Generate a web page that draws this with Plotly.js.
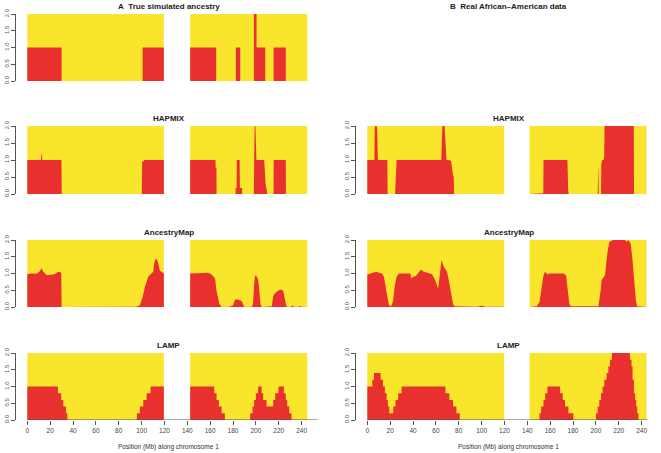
<!DOCTYPE html>
<html>
<head>
<meta charset="utf-8">
<script src="https://cdn.plot.ly/plotly-3.0.1.min.js"></script>
<style>html,body{margin:0;padding:0;background:#fff;}#chart{width:661px;height:453px;}</style>
</head>
<body>
<div id="chart"></div>
<script>
// ---------- DATA ----------
const armsLeft = [[0, 119.5], [142.5, 245]];
const armsRight = [[0, 119.8], [142, 244.3]];
const xTicks = [0, 20, 40, 60, 80, 100, 120, 140, 160, 180, 200, 220, 240];
const yTicks = [0, 0.5, 1, 1.5, 2];
const yTickText = ['0.0', '0.5', '1.0', '1.5', '2.0'];

// A: true simulated ancestry (step)
const trueX1 = [0, 30, 100.9, 119.5];
const trueY1 = [1, 0, 1, 1];
const trueX2 = [142.5, 165.3, 182.5, 186.3, 198.3, 200.6, 208.2, 215.5, 226.2, 245];
const trueY2 = [1, 0, 1, 0, 2, 1, 0, 1, 0, 0];

// HAPMIX simulated
const hapLX1 = [0, 12, 12.3, 12.5, 12.8, 13.1, 29.9, 30.1, 66, 66.3, 66.6, 82, 82.3, 82.6, 100.2, 100.5, 102, 102.2, 119.5];
const hapLY1 = [1, 1, 1.15, 1.22, 1.15, 1, 1, 0, 0, 0.02, 0, 0, 0.02, 0, 0, 0.95, 0.97, 1, 1];
const hapLX2 = [142.5, 164.7, 164.8, 165.5, 165.6, 177.6, 177.8, 178, 182.2, 182.3, 183.2, 183.3, 185.8, 186, 188, 188.1, 198.2, 198.5, 198.9, 199.6, 200.2, 200.5, 207.3, 208.5, 209.8, 210, 215.5, 215.6, 226.2, 226.3, 245];
const hapLY2 = [1, 1, 0.78, 0.78, 0, 0, 0.03, 0, 0, 0.18, 0.18, 1, 1, 0.18, 0.18, 0, 0, 1.5, 2, 2, 1.2, 1, 1, 0.3, 0.05, 0, 0, 1, 1, 0, 0];

// AncestryMap simulated
const ancLX1 = [0, 3, 8, 10.5, 12.5, 14, 17, 20, 24, 27, 29.7, 30, 50, 70, 83, 84.5, 86, 95, 98.5, 100.9, 102.9, 105.8, 108.7, 110.2, 111, 112, 113.7, 115.2, 116, 117.5, 119.5];
const ancLY1 = [0.98, 1.0, 0.99, 1.05, 1.16, 1.05, 0.95, 0.96, 0.98, 1.05, 1.03, 0, 0.01, 0.005, 0.01, 0.03, 0.01, 0.01, 0.05, 0.3, 0.6, 0.9, 1.0, 1.05, 1.3, 1.42, 1.42, 1.2, 1.08, 1.05, 1.0];
const ancLX2 = [142.5, 150, 155, 158, 161, 163, 164.3, 165.5, 166.5, 168, 170, 177, 180, 181.5, 182.5, 185, 187.5, 189, 190, 196.5, 197.5, 198.5, 199.4, 200.5, 202, 203, 204, 205, 214, 215, 216, 218, 220, 222, 224, 225.3, 226.5, 227.5, 231, 232, 233, 237.5, 238.5, 239.5, 245];
const ancLY2 = [1.0, 1.0, 1.0, 1.02, 0.98, 0.9, 0.85, 0.5, 0.3, 0.1, 0.0, 0.01, 0.05, 0.2, 0.23, 0.22, 0.18, 0.05, 0, 0.01, 0.1, 0.7, 0.95, 0.92, 0.82, 0.5, 0.1, 0, 0.02, 0.3, 0.38, 0.45, 0.5, 0.52, 0.48, 0.25, 0.05, 0, 0.01, 0.05, 0.01, 0.01, 0.04, 0.01, 0];

// LAMP simulated (step)
const lampLX1 = [0, 26.8, 29.7, 31.5, 33.8, 35, 95.9, 98.5, 101.5, 104.4, 107.9, 119.5];
const lampLY1 = [1, 0.8, 0.6, 0.4, 0.2, 0, 0.2, 0.4, 0.6, 0.8, 1, 1];
const lampLX2 = [142.5, 163.6, 165.6, 167.6, 170, 172.9, 195, 197.1, 198.5, 200, 202, 205, 206.4, 209.3, 215.2, 216.9, 219.8, 224.5, 226.2, 227.4, 229.2, 231.2, 245];
const lampLY2 = [1, 0.8, 0.6, 0.4, 0.2, 0, 0.2, 0.4, 0.6, 0.8, 1, 0.8, 0.6, 0.4, 0.6, 0.8, 1, 0.8, 0.6, 0.4, 0.2, 0, 0];

// HAPMIX real
const hapRX1 = [0, 6.2, 6.5, 6.8, 8.2, 8.6, 9.2, 9.6, 17.5, 17.8, 24.3, 25.2, 25.6, 44, 44.3, 44.6, 64.7, 65.2, 65.7, 67.6, 68.2, 68.8, 69.3, 71.3, 73.3, 75, 75.6, 75.9, 89.4, 89.6, 89.8, 119.8];
const hapRY1 = [1, 1, 1.9, 2, 2, 1.9, 1.05, 1, 1, 0, 0, 0.95, 1, 1, 1.02, 1, 1, 1.8, 2, 2, 1.6, 1.05, 1, 1, 0.97, 0.55, 0.5, 0, 0, 0.02, 0, 0];
const hapRX2 = [142, 154, 154.2, 162, 162.3, 162.6, 175.1, 175.8, 176.2, 201.6, 202.1, 202.6, 204.5, 204.8, 205.6, 206.8, 207.3, 207.6, 233.2, 233.4, 244.3];
const hapRY2 = [0, 0.02, 1, 1, 1.01, 1, 1, 0.1, 0, 0, 0.88, 0, 0, 0.9, 1, 1, 1.1, 2, 2, 0, 0];

// AncestryMap real
const ancRX1 = [0, 2.9, 5.8, 7.9, 10.2, 13, 14.5, 16, 17.5, 18.9, 21, 22.7, 23.9, 25.6, 27.6, 37.8, 38.4, 40.1, 42.2, 44.2, 47.1, 49.4, 53.8, 56.7, 59.6, 61, 62, 63.4, 64.9, 66.9, 69.8, 71.3, 73.3, 75, 76.2, 90, 93, 96, 100, 103, 119.8];
const ancRY1 = [0.97, 1.0, 1.02, 1.05, 1.02, 1.0, 0.9, 0.6, 0.2, 0.05, 0.02, 0.2, 0.6, 0.9, 1.0, 1.0, 0.85, 0.9, 0.92, 1.0, 1.12, 1.05, 1.0, 0.98, 0.78, 0.6, 0.55, 0.95, 1.4, 1.2, 1.05, 0.8, 0.35, 0.1, 0.02, 0.01, 0.03, 0.01, 0.04, 0.01, 0.01];
const ancRX2 = [142, 148.3, 150.7, 152.7, 154.2, 155.6, 157.6, 160, 171.6, 173.9, 175.1, 176.8, 178, 202.2, 204.2, 205, 208, 210, 211.8, 215.2, 225.4, 226.9, 228.3, 230.4, 231.8, 233.3, 235, 236.2, 244.3];
const ancRY2 = [0, 0.02, 0.15, 0.6, 0.95, 1.05, 0.98, 1.0, 1.0, 0.95, 0.6, 0.1, 0.02, 0.02, 0.5, 0.8, 0.95, 1.6, 1.95, 2.0, 2.0, 1.95, 2.0, 1.9, 1.5, 0.8, 0.2, 0.02, 0];

// LAMP real (step)
const lampRX1 = [0, 4.4, 5.8, 11.6, 13.7, 15.4, 16.9, 18, 19.2, 22.7, 24.7, 27, 30, 68.4, 71.8, 75, 78, 80.9, 119.8];
const lampRY1 = [1, 1.2, 1.4, 1.2, 1.0, 0.8, 0.6, 0.4, 0.2, 0.4, 0.6, 0.8, 1.0, 0.8, 0.6, 0.4, 0.2, 0, 0];
const lampRX2 = [142, 150.7, 152.1, 154.2, 155.6, 157.6, 168.7, 171, 173, 176, 180.3, 200.1, 201.6, 203, 204.5, 205.9, 207.4, 209.4, 210.9, 212.3, 214.1, 229.8, 231.2, 232.1, 233.3, 234.4, 235.3, 236.2, 237.3, 244.3];
const lampRY2 = [0, 0.2, 0.4, 0.6, 0.8, 1.0, 0.8, 0.6, 0.4, 0.2, 0, 0.2, 0.4, 0.6, 0.8, 1.0, 1.2, 1.4, 1.6, 1.8, 2.0, 1.8, 1.6, 1.2, 0.8, 0.6, 0.4, 0.2, 0, 0];

const panelTitles = ['A\u00a0 True simulated ancestry', 'HAPMIX', 'AncestryMap', 'LAMP', 'HAPMIX', 'AncestryMap', 'LAMP'];
const columnTitleB = 'B\u00a0 Real African\u2013American data';
const xAxisTitle = 'Position (Mb) along chromosome 1';

// ---------- LAYOUT ----------
const W = 661, H = 453;
const YELLOW = '#FAE52D', RED = '#E8302F', AX = '#555555';
const colPx = [[16, 321], [356, 661]];
const rowPx = [[14, 81], [126, 194], [240, 307], [353, 420]];
const axisLineEnd = [254, 245];

const panels = [
  {col: 0, row: 0, segs: [[trueX1, trueY1], [trueX2, trueY2]], shape: 'hv', arms: armsLeft},
  {col: 0, row: 1, segs: [[hapLX1, hapLY1], [hapLX2, hapLY2]], shape: 'linear', arms: armsLeft},
  {col: 0, row: 2, segs: [[ancLX1, ancLY1], [ancLX2, ancLY2]], shape: 'linear', arms: armsLeft},
  {col: 0, row: 3, segs: [[lampLX1, lampLY1], [lampLX2, lampLY2]], shape: 'hv', arms: armsLeft},
  {col: 1, row: 1, segs: [[hapRX1, hapRY1], [hapRX2, hapRY2]], shape: 'linear', arms: armsRight},
  {col: 1, row: 2, segs: [[ancRX1, ancRY1], [ancRX2, ancRY2]], shape: 'linear', arms: armsRight},
  {col: 1, row: 3, segs: [[lampRX1, lampRY1], [lampRX2, lampRY2]], shape: 'hv', arms: armsRight}
];

const traces = [];
const layout = {
  width: W, height: H,
  margin: {l: 0, r: 0, t: 0, b: 0},
  paper_bgcolor: '#fff', plot_bgcolor: 'rgba(0,0,0,0)',
  showlegend: false,
  font: {family: 'Liberation Sans, Arial, Helvetica, sans-serif', color: '#222'},
  annotations: [], shapes: []
};

panels.forEach((p, i) => {
  const n = i + 1;
  const xa = 'x' + (n === 1 ? '' : n), ya = 'y' + (n === 1 ? '' : n);
  const xk = 'xaxis' + (n === 1 ? '' : n), yk = 'yaxis' + (n === 1 ? '' : n);
  const cp = colPx[p.col], rp = rowPx[p.row];
  const bottom = p.row === 3;
  layout[xk] = {
    domain: [cp[0] / W, cp[1] / W], range: [-9.9, 257], anchor: ya,
    showgrid: false, zeroline: false, showline: false,
    tickmode: 'array', tickvals: xTicks,
    ticks: bottom ? 'outside' : '', ticklen: 4, tickcolor: AX, tickwidth: 1,
    showticklabels: bottom, tickfont: {size: 6.5, color: '#444'}
  };
  layout[yk] = {
    domain: [1 - rp[1] / H, 1 - rp[0] / H], range: [0, 2], anchor: xa,
    showgrid: false, zeroline: false, showline: true, linecolor: AX, linewidth: 1,
    tickmode: 'array', tickvals: yTicks, ticktext: yTickText,
    ticks: 'outside', ticklen: 4, tickcolor: AX, tickwidth: 1,
    tickangle: -90, tickfont: {size: 6, color: '#555'}
  };
  p.arms.forEach(a => {
    traces.push({x: a, y: [2, 2], xaxis: xa, yaxis: ya, mode: 'lines', fill: 'tozeroy',
      fillcolor: YELLOW, line: {width: 0, color: YELLOW}, hoverinfo: 'skip'});
  });
  p.segs.forEach(s => {
    traces.push({x: s[0], y: s[1], xaxis: xa, yaxis: ya, mode: 'lines', fill: 'tozeroy',
      fillcolor: RED, line: {width: 0, color: RED, shape: p.shape}, hoverinfo: 'skip'});
  });
  const cx = (cp[0] + cp[1]) / 2 / W;
  layout.annotations.push({
    text: '<b>' + panelTitles[i] + '</b>', xref: 'paper', yref: 'paper',
    x: cx, y: 1 - (rp[0] - 7.5) / H, xanchor: 'center', yanchor: 'middle',
    showarrow: false, font: {size: 8, color: '#222'}
  });
  if (bottom) {
    layout.shapes.push({type: 'line', xref: xa, yref: ya, x0: 0, x1: axisLineEnd[p.col], y0: 0, y1: 0,
      line: {color: AX, width: 1}});
    layout.annotations.push({
      text: xAxisTitle, xref: 'paper', yref: 'paper', x: cx, y: 1 - 447 / H,
      xanchor: 'center', yanchor: 'middle', showarrow: false, font: {size: 6.5, color: '#333'}
    });
  }
});

layout.annotations.push({
  text: '<b>' + columnTitleB + '</b>', xref: 'paper', yref: 'paper',
  x: (colPx[1][0] + colPx[1][1]) / 2 / W, y: 1 - (rowPx[0][0] - 7.5) / H,
  xanchor: 'center', yanchor: 'middle', showarrow: false, font: {size: 8, color: '#222'}
});

Plotly.newPlot('chart', traces, layout, {staticPlot: true, displayModeBar: false});
</script>
</body>
</html>
